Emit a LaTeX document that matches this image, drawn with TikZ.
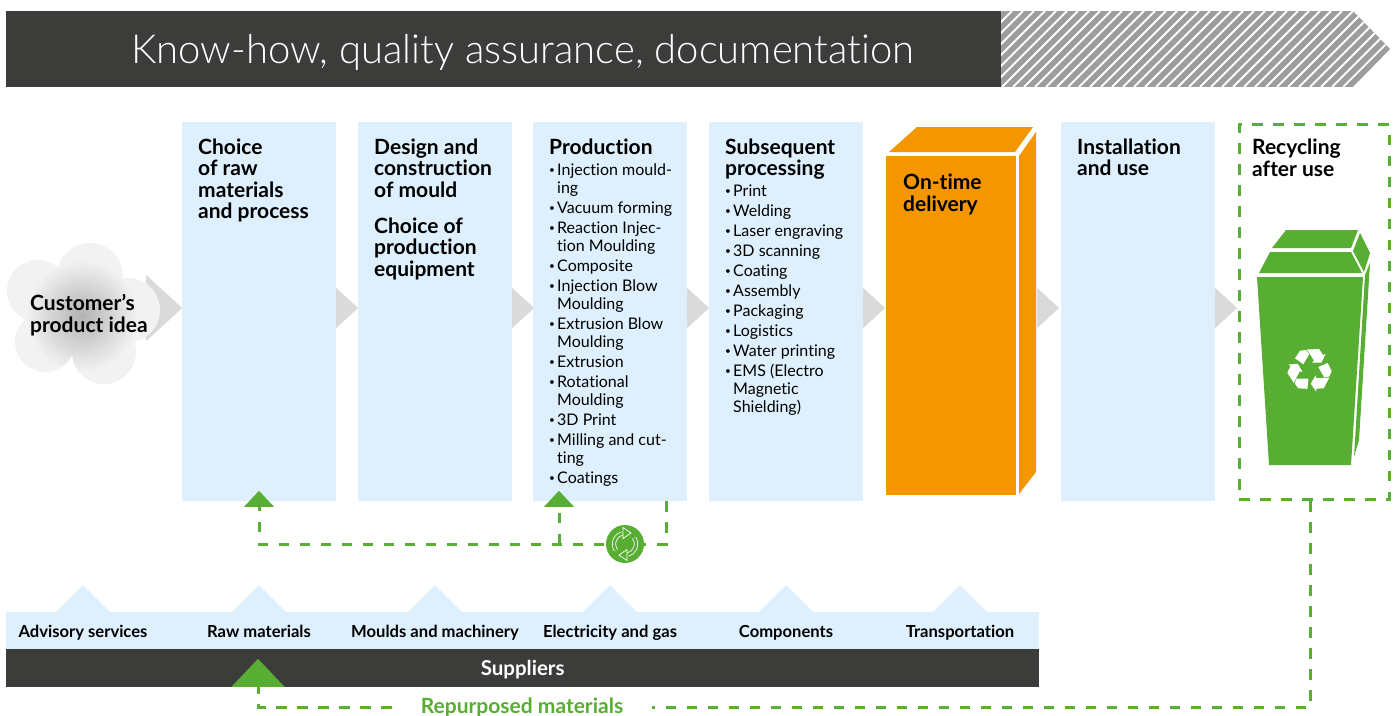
\documentclass[tikz,border=0pt]{standalone}
\usepackage{fontspec}
\setmainfont{Lato}[Ligatures=NoCommon]
\newfontfamily\lightfont{Lato Light}[Ligatures=NoCommon]
\usetikzlibrary{shapes.geometric}
\definecolor{darkband}{HTML}{3C3C3A}
\definecolor{paleblue}{HTML}{DEF0FD}
\definecolor{hatchgray}{HTML}{9D9D9C}
\definecolor{chevrongray}{HTML}{DADADA}
\definecolor{cargo}{HTML}{F39600}
\definecolor{recygreen}{HTML}{57AE32}
\newcommand{\stagetext}[1]{\parbox[t][379pt][t]{154pt}{\fontsize{16}{18}\selectfont\leftskip=16pt\rightskip=0pt plus 1fil\parfillskip=0pt plus 1fil\parskip=2pt\relax #1}}
\newcommand{\boxhead}[1]{{\bfseries\fontsize{21}{21.5}\selectfont\rule{0pt}{32pt}#1\par}}
\newcommand{\boxheadnext}[1]{{\bfseries\fontsize{21}{21.5}\selectfont #1\par}}
\newcommand{\li}[1]{\par\hangindent=8pt\hangafter=1\makebox[8pt][l]{\raisebox{1.8pt}{\fontsize{10}{10}\selectfont\textbullet}}#1}
\begin{document}
\begin{tikzpicture}[
    x=1pt, y=-1pt,
    stagebox/.style={anchor=north west, fill=paleblue, inner sep=0pt},
    nextarrow/.style={isosceles triangle, isosceles triangle stretches, fill=chevrongray, inner sep=0pt,
        minimum width=40pt, minimum height=22pt, anchor=west},
    uptip/.style={isosceles triangle, isosceles triangle stretches, shape border rotate=90, fill=recygreen,
        inner sep=0pt, minimum width=30pt, minimum height=16pt, anchor=south},
    backflow/.style={draw=recygreen, line width=3pt, dash pattern=on 10.5pt off 10.5pt},
    headtext/.style={font=\bfseries\fontsize{21}{21.5}\selectfont, align=left, anchor=north west, inner sep=0pt},
    suplabel/.style={font=\bfseries\fontsize{16.6}{18}\selectfont, inner sep=0pt, anchor=base}]

\useasboundingbox (0,0) rectangle (1399,715);

% top banner
\node (banner) [fill=darkband, anchor=north west, minimum width=995pt, minimum height=76pt, inner sep=0pt] at (6,11) {};
\begin{scope}
    \clip (1001,11) -- (1353,11) -- (1390,49) -- (1353,87) -- (1001,87) -- cycle;
    \fill[hatchgray] (1001,11) rectangle (1390,87);
    \foreach \x in {925,936,...,1390}
        \draw[white, line width=1.8pt] (\x,87) -- (\x+76,11);
\end{scope}
\node (title) [anchor=west, text=white, inner sep=0pt, font=\lightfont\fontsize{40}{44}\selectfont] at (131,52) {Know-how, quality assurance, documentation};

% arrows between the stages
\foreach \x [count=\i] in {336,512,687,863,1037,1215}
    \node (next\i) [nextarrow] at (\x,308) {};
\node (nextidea) [nextarrow, minimum width=66pt, minimum height=36pt] at (146,308) {};

% customer cloud
\begin{scope}
    \clip (90,276) circle (33) (38,291) circle (31) (45,342) circle (30) (104,352) circle (32) (128,310) circle (32) (80,315) circle (40);
    \fill[black!5] (0,240) rectangle (165,390);
    \shade[inner color=black!30, outer color=black!5] (82,316) circle (56);
\end{scope}
\node (idea) [headtext] at (30,294.5) {Customer's\\product idea};

% stages
\node (material) [stagebox] at (182,122) {\stagetext{\boxhead{Choice\\of raw\\materials\\and process}}};
\node (mould) [stagebox] at (358,122) {\stagetext{\boxhead{Design and\\construction\\of mould}\vspace{12.5pt}\boxheadnext{Choice of\\production\\equipment}}};
\node (production) [stagebox] at (533,122) {\stagetext{\boxhead{Production}\vspace{1.5pt}
    \li{Injection mould-\\ing}
    \li{Vacuum forming}
    \li{Reaction Injec-\\tion Moulding}
    \li{Composite}
    \li{Injection Blow\\Moulding}
    \li{Extrusion Blow\\Moulding}
    \li{Extrusion}
    \li{Rotational\\Moulding}
    \li{3D Print}
    \li{Milling and cut-\\ting}
    \li{Coatings}}};
\node (subsequent) [stagebox] at (709,122) {\stagetext{\boxhead{Subsequent\\processing}\vspace{0.5pt}
    \li{Print}
    \li{Welding}
    \li{Laser engraving}
    \li{3D scanning}
    \li{Coating}
    \li{Assembly}
    \li{Packaging}
    \li{Logistics}
    \li{Water printing}
    \li{EMS (Electro\\Magnetic\\Shielding)}}};
\node (install) [stagebox] at (1061,122) {\stagetext{\boxhead{Installation\\and use}}};

% delivery box
\fill[cargo] (889,152) -- (917,127) -- (1033,127) -- (1015,152) -- cycle;
\fill[cargo] (1019,156) -- (1036,132) -- (1036,472) -- (1019,494) -- cycle;
\node (delivery) [anchor=north west, fill=cargo, inner sep=0pt, minimum width=130pt, minimum height=339pt] at (886,156) {};
\node (deliverytext) [headtext] at (903,174) {On-time\\delivery};

% recycling
\node (recycling) [backflow, anchor=north west, minimum width=150pt, minimum height=374.5pt, inner sep=0pt, outer sep=0pt] at (1239,124.5) {};
\node (recyclingtext) [headtext] at (1252,139) {Recycling\\after use};
\fill[recygreen] (1272,248) -- (1286,230) -- (1358,230) -- (1351,248) -- cycle;
\fill[recygreen] (1259,273) -- (1270,252) -- (1351,252) -- (1362,273) -- cycle;
\fill[recygreen] (1353,251) -- (1360,233) -- (1370,253) -- (1364,272) -- cycle;
\fill[recygreen] (1257,277) -- (1363,277) -- (1351,465) -- (1269,465) -- cycle;
\fill[recygreen] (1370,263) -- (1359,440) -- (1354,457) -- (1365,275) -- cycle;
\foreach \ang in {0,120,240} {
    \fill[white, shift={(1310,370)}, rotate=\ang] (-3,-20.5) -- (9,-21) -- (13,-15) -- (15.5,-16) -- (11.5,-7.5) -- (2,-7.5) -- (4,-9.5) -- cycle;
    \fill[white, shift={(1310,370)}, rotate=\ang] (-15,-11.7) -- (-10,-19.3) -- (-4,-20) -- (-0.7,-16) -- (-6.7,-5.7) -- cycle;
}

% suppliers
\fill[paleblue] (6,612) rectangle (1039,649);
\foreach \x/\name [count=\i] in {83/Advisory services,259/Raw materials,435/Moulds and machinery,610/Electricity and gas,786/Components,960/Transportation} {
    \fill[paleblue] (\x-27,612) -- (\x,585) -- (\x+27,612) -- cycle;
    \node (supply\i) [suplabel] at (\x,637.5) {\name};
}
\node (suppliers) [fill=darkband, anchor=north west, minimum width=1033pt, minimum height=38pt, inner sep=0pt,
    text=white, text depth=0pt, font=\bfseries\fontsize{20.5}{22}\selectfont] at (6,649) {Suppliers};

% loops back
\node (tipmaterial) [uptip] at (259,507) {};
\node (tipproduction) [uptip] at (559,507) {};
\node (tipraw) [uptip, minimum width=53pt, minimum height=28pt] at (258,687) {};
\node (repurposed) [font=\bfseries\fontsize{21}{22}\selectfont, text=recygreen, inner sep=0pt, minimum width=260pt] at (522,707) {Repurposed materials};
\coordinate (prodfoot) at (666,501);
\coordinate (binfoot) at (1310,501);

\draw[backflow] (prodfoot) |- (625,544) -| (tipmaterial.south);
\draw[backflow] (559,544) -- (tipproduction.south);
\draw[backflow] (binfoot) |- (repurposed.east);
\draw[backflow] (repurposed.west) -| (tipraw.south);

\node (loopsign) [circle, fill=recygreen, minimum size=38pt, inner sep=0pt] at (625,544) {};
\begin{scope}[shift={(loopsign.center)}]
    \foreach \ang in {0,180} {
        \begin{scope}[rotate=\ang]
            \draw[white, line width=4.2pt] (-215:11) arc[start angle=-215, end angle=-105, radius=11];
            \draw[recygreen, line width=2.6pt] (-215:11) arc[start angle=-215, end angle=-105, radius=11];
            \draw[white, fill=recygreen, line width=.7pt] (-2,-16.5) -- (6,-11) -- (-2,-5.5) -- cycle;
        \end{scope}
    }
\end{scope}
\end{tikzpicture}
\end{document}
